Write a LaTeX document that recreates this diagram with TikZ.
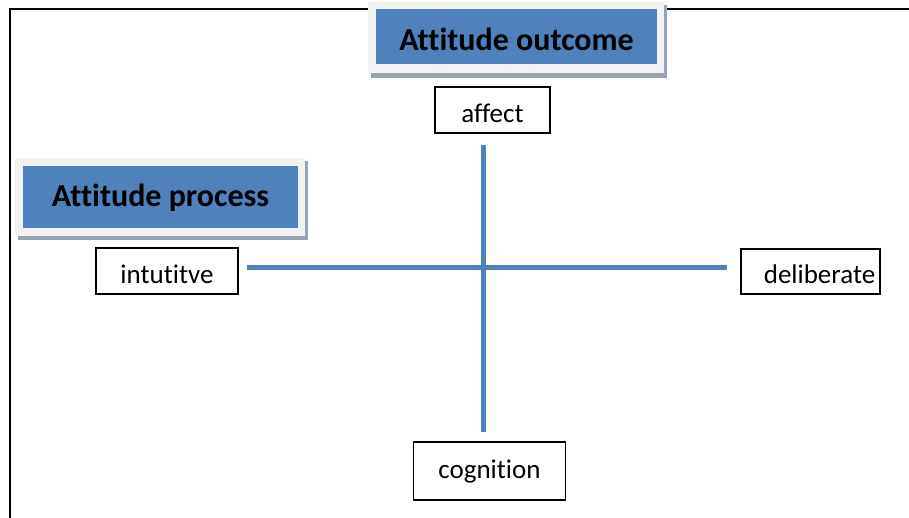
\documentclass[tikz,border=0pt]{standalone}
\usepackage{fontspec}
\setmainfont[RawFeature={-liga}]{Carlito}
\definecolor{axisblue}{HTML}{4F81BD}
\definecolor{framegray}{HTML}{F2F2F2}
\definecolor{shadowgray}{HTML}{97A3B4}
\tikzset{
  lblbox/.style={draw=black, line width=1.5pt, fill=white, inner sep=0pt},
  lbltext/.style={inner sep=0pt, font=\fontsize{27}{31}\selectfont},
  axis/.style={draw=axisblue, line width=5pt},
  titletext/.style={font=\bfseries\fontsize{32}{36}\selectfont, inner sep=0pt}
}
\begin{document}
\begin{tikzpicture}[x=1pt, y=-1pt]
\useasboundingbox (0,0) rectangle (909,517);
\fill[white] (0,0) rectangle (909,517);
% outer frame
\draw[line width=2pt, black] (9.5,520) -- (9.5,8.5) -- (912,8.5);
% title: Attitude outcome
\fill[shadowgray] (371,5) rectangle (667,78);
\fill[framegray] (368,2) rectangle (664,73);
\fill[axisblue] (376,9) rectangle (657,64);
\node[titletext] (outcome) at (516.5,39) {Attitude outcome};
% title: Attitude process
\fill[shadowgray] (18,161) rectangle (308,240);
\fill[framegray] (15,158) rectangle (305,236);
\fill[axisblue] (23,166) rectangle (298,228);
\node[titletext] (process) at (160.5,198) {Attitude process};
% label boxes
\node[lblbox, minimum width=115pt, minimum height=46pt] (affect) at (492.5,110) {};
\node[lblbox, minimum width=142pt, minimum height=46pt] (intuitive) at (167,271) {};
\node[lblbox, minimum width=139pt, minimum height=45pt] (deliberate) at (810.5,271.5) {};
\node[lblbox, minimum width=152pt, minimum height=58pt] (cognition) at (489.5,471) {};
% label texts
\node[lbltext] (affectt) at ([yshift=-3pt]affect.center) {affect};
\node[lbltext] (intuitivet) at ([yshift=-3pt]intuitive.center) {intutitve};
\node[lbltext] (deliberatet) at ([xshift=9pt,yshift=-3pt]deliberate.center) {deliberate};
\node[lbltext] (cognitiont) at ([yshift=-1pt]cognition.center) {cognition};
% axes
\coordinate (vtop) at (483.5,145);
\coordinate (vbot) at (483.5,432);
\coordinate (hleft) at (247,267);
\coordinate (hright) at (727,267);
\draw[axis] (vtop) -- (vbot);
\draw[axis] (hleft) -- (hright);
\end{tikzpicture}
\end{document}
